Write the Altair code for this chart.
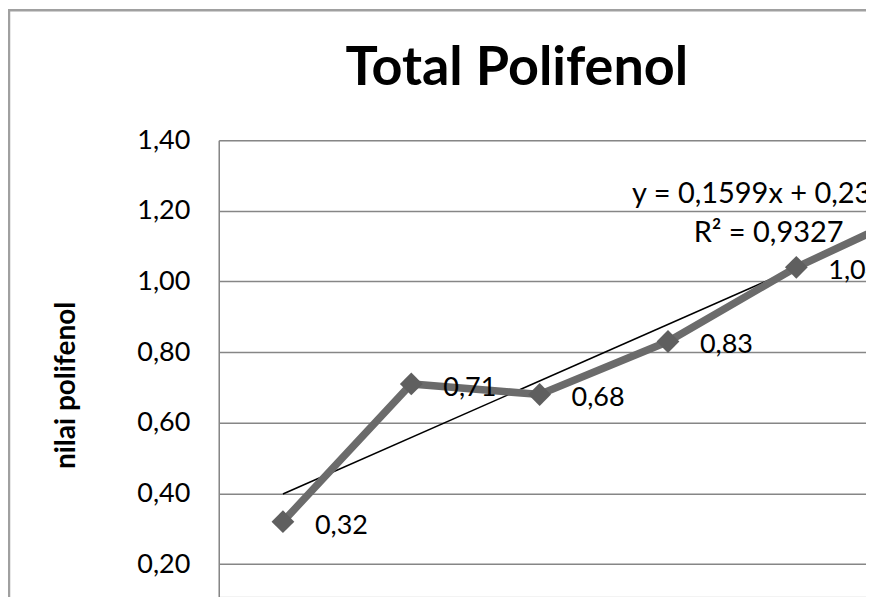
import altair as alt
import pandas as pd

# ---- data ----
categories = [1, 2, 3, 4, 5, 6]
values = [0.32, 0.71, 0.68, 0.83, 1.04, 1.21]
value_labels = ["0,32", "0,71", "0,68", "0,83", "1,04", "1,21"]
trend_x = [1, 6]
trend_y = [0.3985, 1.1980]
eq_lines = ["y = 0,1599x + 0,2386", "R² = 0,9327"]
eq_x = [3.72, 4.20]
eq_y = [1.222, 1.1115]
y_ticks = [0.2, 0.4, 0.6, 0.8, 1.0, 1.2, 1.4]
title_text = ["Total Polifenol"]

df = pd.DataFrame({"x": categories, "y": values, "label": value_labels})
trend = pd.DataFrame({"x": trend_x, "y": trend_y})
eq = pd.DataFrame({"x": eq_x, "y": eq_y, "t": eq_lines})
one = pd.DataFrame({"a": [0]})
tdf = pd.DataFrame({"t": title_text})

FONT = "Lato"
GRID = "#868686"

x_scale = alt.Scale(domain=[0.5, 5.5428], nice=False, zero=False)
y_scale = alt.Scale(domain=[0.1076, 1.4], nice=False, zero=False)

X = alt.X("x:Q", scale=x_scale, axis=None)
Y = alt.Y(
    "y:Q",
    scale=y_scale,
    axis=alt.Axis(
        values=y_ticks,
        title="nilai polifenol",
        labelExpr="replace(format(datum.value, '.2f'), '.', ',')",
        grid=True,
        gridColor=GRID,
        gridWidth=1.5,
        domainColor=GRID,
        domainWidth=1.5,
        ticks=False,
        labelFont=FONT,
        labelFontSize=27,
        labelColor="black",
        labelPadding=29,
        titleFont=FONT,
        titleFontSize=28,
        titleFontWeight="bold",
        titleColor="black",
        titleAngle=270,
        titleAlign="center",
        titleBaseline="alphabetic",
        titleX=-144,
        titleY=245,
    ),
)

trend_line = alt.Chart(trend).mark_line(color="black", strokeWidth=1.6, clip=True).encode(
    x=X, y=Y
)
series = alt.Chart(df).mark_line(color="#6b6b6b", strokeWidth=7.5, clip=True).encode(x=X, y=Y)
points = alt.Chart(df).mark_point(
    shape="diamond", filled=True, size=520, color="#5f5f5f", opacity=1, clip=True
).encode(x=X, y=Y)
labels = alt.Chart(df).mark_text(
    align="left", baseline="middle", dx=32, dy=4, font=FONT, fontSize=27,
    color="black", clip=True
).encode(x=X, y=Y, text="label:N")
eq_text = alt.Chart(eq).mark_text(
    align="left", baseline="alphabetic", font=FONT, fontSize=29, color="black", clip=True
).encode(x=X, y=Y, text="t:N")

title = alt.Chart(tdf).mark_text(
    align="center", baseline="alphabetic", font=FONT, fontSize=54, fontWeight="bold",
    color="black"
).encode(x=alt.value(298.5), y=alt.value(-55), text="t:N")

BORDER = "#a0a0a0"
left_border = alt.Chart(one).mark_rule(color=BORDER, strokeWidth=2.5).encode(
    x=alt.value(-210), y=alt.value(-131), y2=alt.value(470)
)
top_border = alt.Chart(one).mark_rule(color=BORDER, strokeWidth=2.5).encode(
    x=alt.value(-211), x2=alt.value(660), y=alt.value(-130)
)

chart = (
    alt.layer(trend_line, series, points, labels, eq_text, title, left_border, top_border)
    .properties(
        width=648,
        height=457,
        autosize=alt.AutoSizeParams(type="none"),
        padding={"left": 211, "top": 132, "right": 0, "bottom": 0},
    )
    .configure_view(strokeWidth=0)
    .configure(background="white")
)

chart.save("out.html", embed_options={"renderer": "svg", "actions": False})
